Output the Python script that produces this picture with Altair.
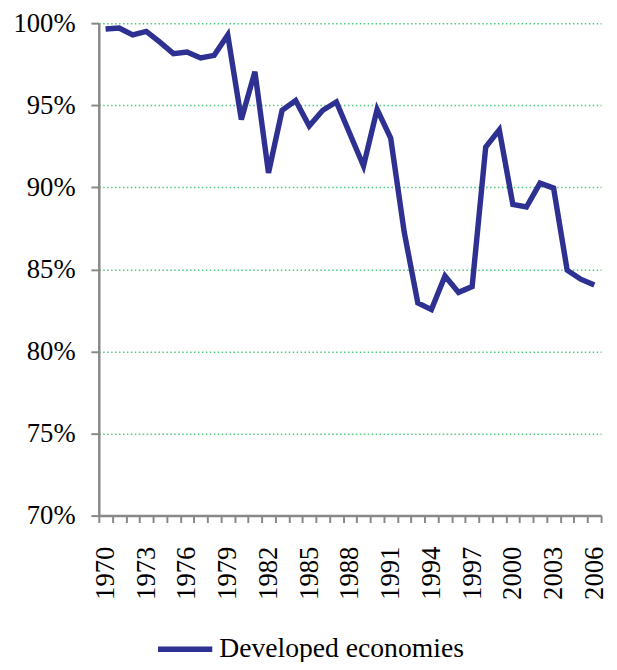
import altair as alt
import pandas as pd

years = list(range(1970, 2007))
share = [99.64, 99.70, 99.28, 99.50, 98.84, 98.14, 98.24, 97.88, 98.04, 99.28,
         94.13, 97.04, 90.88, 94.69, 95.29, 93.73, 94.69, 95.20, 93.25, 91.30,
         94.75, 93.00, 87.26, 82.95, 82.55, 84.60, 83.60, 83.95, 92.45, 93.50,
         88.95, 88.80, 90.25, 89.95, 84.95, 84.40, 84.05]
series = ["Developed economies"] * len(years)

df = pd.DataFrame({"year": years, "share": [v / 100 for v in share], "series": series})

FONT = "Liberation Serif"
GREY = "#888888"

chart = alt.Chart(df).mark_line(strokeWidth=5.5, strokeJoin="miter").encode(
    x=alt.X("year:O",
            bandPosition=0.5,
            scale=alt.Scale(type="band", paddingInner=0, paddingOuter=0),
            axis=alt.Axis(title=None, labelAngle=-90, tickBand="extent",
                          labelExpr="(datum.value - 1970) % 3 == 0 ? datum.label : ''",
                          labelFont=FONT, labelFontSize=27, labelColor="black",
                          labelPadding=24, tickSize=7, tickWidth=2, tickColor=GREY,
                          domainColor=GREY, domainWidth=2.5, grid=False,
                          labelOverlap=False)),
    y=alt.Y("share:Q",
            scale=alt.Scale(domain=[0.70, 1.0], nice=False, zero=False),
            axis=alt.Axis(title=None, format=".0%", values=[0.70, 0.75, 0.80, 0.85, 0.90, 0.95, 1.0],
                          labelFont=FONT, labelFontSize=27, labelColor="black",
                          labelPadding=16, tickSize=8, tickWidth=2, tickColor=GREY,
                          domainColor=GREY, domainWidth=2.5,
                          grid=True, gridColor="#4DC97F", gridDash=[1.5, 2.5], gridWidth=1.5)),
    color=alt.Color("series:N",
                    scale=alt.Scale(range=["#2E3192"]),
                    legend=alt.Legend(title=None, orient="none", legendX=57, legendY=604,
                                      symbolType="stroke", symbolSize=3025, symbolStrokeWidth=5.5,
                                      labelFont=FONT, labelFontSize=28, labelColor="black",
                                      labelLimit=500, labelOffset=4, padding=0)),
).properties(
    width=509, height=499,
    autosize=alt.AutoSizeParams(type="none"),
    padding={"left": 92, "top": 11, "right": 8, "bottom": 144},
).configure_view(stroke=None)

chart.save("out.html", embed_options={"renderer": "svg", "actions": False})
